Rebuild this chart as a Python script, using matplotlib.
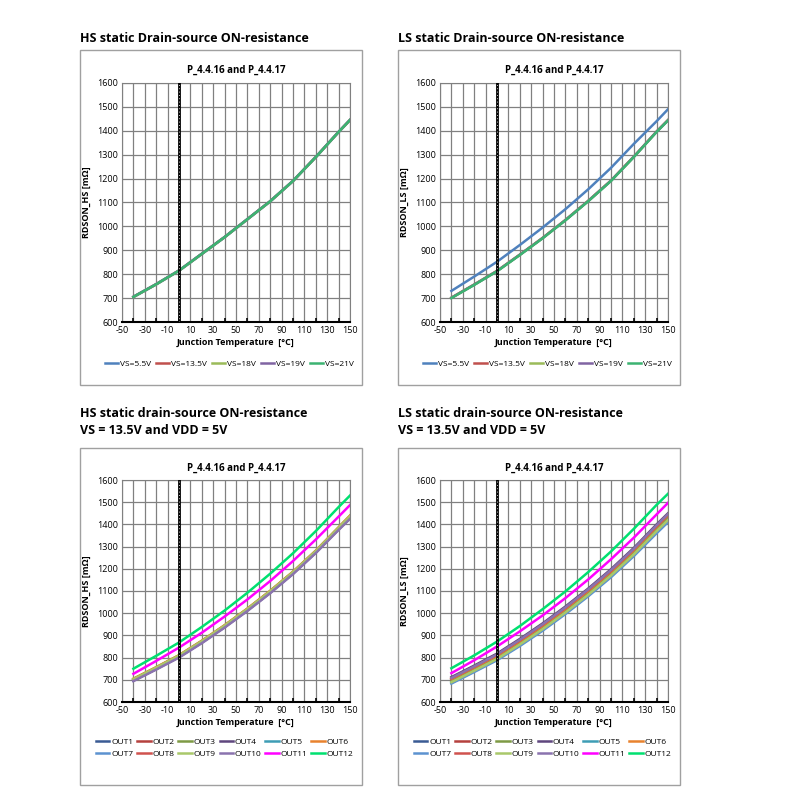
import matplotlib
matplotlib.use('Agg')
import matplotlib.pyplot as plt
import numpy as np
from matplotlib.patches import Rectangle

plt.rcParams['font.family'] = ['Open Sans', 'DejaVu Sans']
plt.rcParams['axes.unicode_minus'] = False

# junction temperature sample points [degC]
T = [-40, -20, 0, 20, 40, 60, 80, 100, 120, 140, 150]

# RDSON vs. supply voltage
hsVs = {
    'VS=5.5V':  ([704, 757, 814, 884, 954, 1029, 1104, 1189, 1289, 1394, 1444], '#4F81BD'),
    'VS=13.5V': ([705, 758, 815, 885, 955, 1030, 1105, 1190, 1290, 1395, 1445], '#C0504D'),
    'VS=18V':   ([705, 758, 815, 885, 955, 1030, 1105, 1190, 1290, 1395, 1445], '#9BBB59'),
    'VS=19V':   ([706, 759, 816, 886, 956, 1031, 1106, 1191, 1291, 1396, 1446], '#8064A2'),
    'VS=21V':   ([705, 758, 815, 885, 955, 1030, 1105, 1190, 1290, 1395, 1445], '#3CB371'),
}
lsVs = {
    'VS=5.5V':  ([730, 790, 852, 922, 995, 1072, 1155, 1245, 1345, 1440, 1490], '#4F81BD'),
    'VS=13.5V': ([702, 757, 814, 882, 952, 1027, 1107, 1192, 1292, 1397, 1445], '#C0504D'),
    'VS=18V':   ([701, 756, 813, 881, 951, 1026, 1106, 1191, 1291, 1396, 1444], '#9BBB59'),
    'VS=19V':   ([701, 756, 813, 881, 951, 1026, 1106, 1191, 1291, 1396, 1444], '#8064A2'),
    'VS=21V':   ([700, 755, 812, 880, 950, 1025, 1105, 1190, 1290, 1395, 1443], '#3CB371'),
}

outColors = ['#3A5B94', '#B5413E', '#7E9A45', '#5F477E', '#3E9DB5', '#E8822E',
             '#5C92D0', '#D0524E', '#A9C86A', '#8A73AE', '#FF00FF', '#00E070']

# RDSON per output, VS = 13.5V, VDD = 5V
hsOut = [
    [700, 752, 806, 871, 941, 1016, 1096, 1182, 1277, 1382, 1434],
    [702, 754, 808, 873, 943, 1018, 1098, 1184, 1279, 1384, 1436],
    [704, 756, 810, 875, 945, 1020, 1100, 1186, 1281, 1386, 1438],
    [696, 748, 802, 867, 937, 1012, 1092, 1178, 1273, 1377, 1428],
    [699, 751, 805, 870, 940, 1015, 1095, 1181, 1276, 1381, 1433],
    [705, 757, 811, 876, 946, 1021, 1101, 1187, 1282, 1387, 1440],
    [698, 750, 804, 869, 939, 1014, 1094, 1180, 1275, 1380, 1432],
    [701, 753, 807, 872, 942, 1017, 1097, 1183, 1278, 1383, 1435],
    [703, 755, 809, 874, 944, 1019, 1099, 1185, 1280, 1385, 1437],
    [694, 746, 800, 865, 935, 1010, 1090, 1176, 1271, 1375, 1425],
    [727, 785, 845, 912, 985, 1062, 1145, 1235, 1332, 1435, 1487],
    [750, 808, 868, 938, 1012, 1092, 1178, 1270, 1370, 1478, 1530],
]
lsOut = [
    [700, 752, 805, 870, 940, 1016, 1097, 1184, 1280, 1386, 1438],
    [705, 757, 810, 876, 946, 1022, 1103, 1190, 1286, 1392, 1444],
    [692, 744, 797, 862, 931, 1007, 1087, 1174, 1270, 1374, 1425],
    [712, 764, 818, 884, 954, 1030, 1111, 1198, 1294, 1400, 1450],
    [686, 738, 791, 856, 925, 1000, 1080, 1166, 1261, 1365, 1415],
    [703, 755, 808, 873, 943, 1019, 1100, 1187, 1283, 1389, 1441],
    [683, 735, 788, 852, 921, 996, 1076, 1162, 1257, 1360, 1410],
    [706, 758, 812, 877, 947, 1023, 1104, 1191, 1287, 1393, 1445],
    [689, 741, 794, 859, 928, 1003, 1083, 1170, 1265, 1370, 1420],
    [708, 760, 814, 880, 950, 1026, 1107, 1194, 1290, 1396, 1447],
    [730, 788, 850, 918, 990, 1068, 1152, 1243, 1340, 1445, 1497],
    [752, 810, 872, 942, 1018, 1098, 1185, 1278, 1380, 1488, 1538],
]


def setupAxes(ax, ylabel):
    ax.set_xlim(-50, 150)
    ax.set_ylim(600, 1600)
    ax.set_xticks(np.arange(-50, 151, 20))
    ax.set_xticks(np.arange(-50, 151, 10), minor=True)
    ax.set_yticks(np.arange(600, 1601, 100))
    ax.grid(True, which='both', color='#808080', lw=0.9)
    ax.tick_params(labelsize=6.5, length=0, pad=3)
    ax.tick_params(axis='x', which='minor', length=3, direction='in', color='black', width=1.2)
    for s in ax.spines.values():
        s.set_color('#808080')
    ax.spines['bottom'].set_color('black')
    ax.spines['bottom'].set_linewidth(1.5)
    ax.axvline(0, color='black', lw=2, zorder=3)
    ax.axvline(0, color='white', lw=0.6, ls=(0, (1, 3)), zorder=3)
    ax.set_title('P_4.4.16 and P_4.4.17', fontsize=7, fontweight='bold', pad=7)
    ax.set_xlabel('Junction Temperature  [°C]', fontsize=6.5, fontweight='bold', labelpad=2)
    ax.set_ylabel(ylabel, fontsize=6.5, fontweight='bold', labelpad=4)


fig = plt.figure(figsize=(8, 8), dpi=100)

for bx, by, bh in [(0.1, 0.51875, 0.41875), (0.4975, 0.51875, 0.41875),
                   (0.1, 0.01875, 0.42125), (0.4975, 0.01875, 0.42125)]:
    fig.patches.append(Rectangle((bx, by), 0.3525, bh, transform=fig.transFigure,
                                 fill=False, edgecolor='#A0A0A0', lw=1))

fig.text(0.1, 0.947, 'HS static Drain-source ON-resistance', fontsize=9, fontweight='bold')
fig.text(0.4975, 0.947, 'LS static Drain-source ON-resistance', fontsize=9, fontweight='bold')
fig.text(0.1, 0.458, 'HS static drain-source ON-resistance\nVS = 13.5V and VDD = 5V',
         fontsize=9, fontweight='bold', linespacing=1.4)
fig.text(0.4975, 0.458, 'LS static drain-source ON-resistance\nVS = 13.5V and VDD = 5V',
         fontsize=9, fontweight='bold', linespacing=1.4)

axes = [
    fig.add_axes([0.1525, 0.5975, 0.285, 0.2988]),
    fig.add_axes([0.55, 0.5975, 0.285, 0.2988]),
    fig.add_axes([0.1525, 0.1225, 0.285, 0.2775]),
    fig.add_axes([0.55, 0.1225, 0.285, 0.2775]),
]

for ax, data, ylab in [(axes[0], hsVs, 'RDSON_HS [mΩ]'), (axes[1], lsVs, 'RDSON_LS [mΩ]')]:
    setupAxes(ax, ylab)
    for name, (vals, col) in data.items():
        ax.plot(T, vals, color=col, lw=1.8, label=name)
    ax.legend(loc='upper center', bbox_to_anchor=(0.47, -0.13), ncol=5, fontsize=6,
              frameon=False, handlelength=1.6, handletextpad=0.2, columnspacing=0.6)

# legend fills columns first, so interleave to get OUT1..OUT6 on the first row
order = [0, 6, 1, 7, 2, 8, 3, 9, 4, 10, 5, 11]
for ax, data, ylab in [(axes[2], hsOut, 'RDSON_HS [mΩ]'), (axes[3], lsOut, 'RDSON_LS [mΩ]')]:
    setupAxes(ax, ylab)
    lines = []
    for i, vals in enumerate(data):
        ln, = ax.plot(T, vals, color=outColors[i], lw=1.8, label='OUT' + str(i + 1))
        lines.append(ln)
    hnd = [lines[k] for k in order]
    ax.legend(hnd, [h.get_label() for h in hnd], loc='upper center', bbox_to_anchor=(0.45, -0.13),
              ncol=6, fontsize=6, frameon=False, handlelength=1.6, handletextpad=0.2,
              columnspacing=0.5)

fig.savefig('out.png', dpi=100)
